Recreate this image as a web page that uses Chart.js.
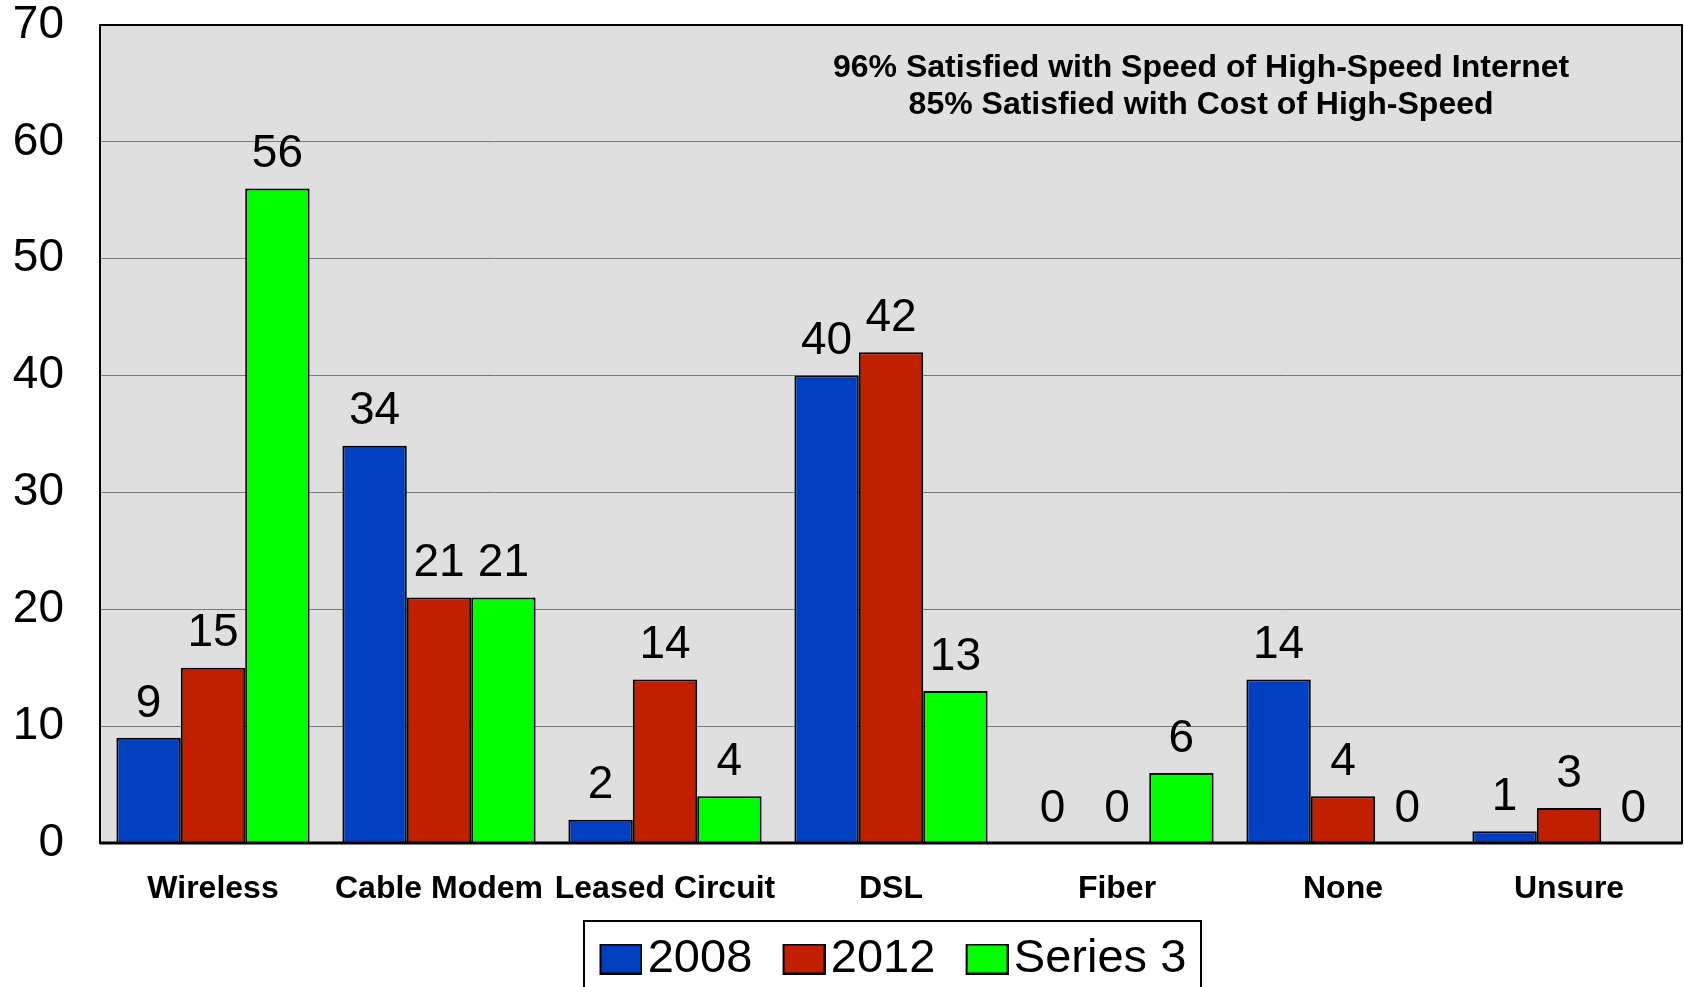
<!DOCTYPE html>
<html>
<head>
<meta charset="utf-8">
<script src="https://cdn.jsdelivr.net/npm/chart.js@4/dist/chart.umd.min.js"></script>
<style>
html,body{margin:0;padding:0;background:#fff;}
#wrap{width:1684px;height:987px;position:relative;}
</style>
</head>
<body>
<div id="wrap"><canvas id="c" width="1684" height="987"></canvas></div>
<script>
const categories = ['Wireless', 'Cable Modem', 'Leased Circuit', 'DSL', 'Fiber', 'None', 'Unsure'];
const series2008 = [9, 34, 2, 40, 0, 14, 1];
const series2012 = [15, 21, 14, 42, 0, 4, 3];
const series3 = [56, 21, 4, 13, 6, 0, 0];
const seriesNames = ['2008', '2012', 'Series 3'];
const yMin = 0, yMax = 70, yStep = 10;
const noteLines = ['96% Satisfied with Speed of High-Speed Internet', '85% Satisfied with Cost of High-Speed'];

const colors = ['#0040C0', '#C02000', '#00FF00'];
const FONT = '"Liberation Sans", Arial, sans-serif';

const LEG_FONT = 47;
const LEG_PAD = 26.5;
const LEG_W = 28.5;
const LEG_H = LEG_PAD + 51.5;

function makeSwatch(color) {
  const c = document.createElement('canvas');
  c.width = Math.round(LEG_W + 36); c.height = 31;
  const g = c.getContext('2d');
  const sx = Math.round(LEG_W - 6);
  g.fillStyle = color;
  g.fillRect(sx, 1, 41, 29);
  g.strokeStyle = '#000';
  g.lineWidth = 2;
  g.strokeRect(sx, 1, 41, 29);
  return c;
}
const swatches = colors.map(makeSwatch);

const plotBg = {
  id: 'plotBg',
  beforeDraw(chart) {
    const {ctx, chartArea: a} = chart;
    ctx.save();
    ctx.fillStyle = '#DFDFDF';
    ctx.fillRect(a.left, a.top, a.right - a.left, a.bottom - a.top);
    ctx.restore();
  },
  afterDatasetsDraw(chart) {
    const {ctx, chartArea: a} = chart;
    ctx.save();
    ctx.strokeStyle = '#000';
    ctx.lineWidth = 2;
    ctx.strokeRect(a.left, a.top, a.right - a.left, a.bottom - a.top);
    ctx.lineWidth = 3;
    ctx.beginPath();
    ctx.moveTo(a.left, a.bottom);
    ctx.lineTo(a.right, a.bottom);
    ctx.stroke();
    // value labels
    ctx.fillStyle = '#000';
    ctx.font = '46px ' + FONT;
    ctx.textAlign = 'center';
    ctx.textBaseline = 'middle';
    chart.data.datasets.forEach((ds, di) => {
      const meta = chart.getDatasetMeta(di);
      meta.data.forEach((bar, i) => {
        ctx.fillText(String(ds.data[i]), bar.x, bar.y - 34);
      });
    });
    // note
    ctx.font = 'bold 32px ' + FONT;
    const cx = a.left + (a.right - a.left) * 0.696;
    ctx.fillText(noteLines[0], cx, a.top + 43);
    ctx.fillText(noteLines[1], cx, a.top + 80);
    ctx.restore();
  },
  afterDraw(chart) {
    const lg = chart.legend;
    if (!lg || !lg.legendHitBoxes || !lg.legendHitBoxes.length) return;
    const hb = lg.legendHitBoxes;
    const first = hb[0], last = hb[hb.length - 1];
    const {ctx} = chart;
    ctx.save();
    ctx.strokeStyle = '#000';
    ctx.lineWidth = 2;
    const left = Math.round(first.left + LEG_W - 24 - 16);
    const right = Math.round(last.left + last.width + 15);
    ctx.strokeRect(left, 921, right - left, 100);
    ctx.restore();
  }
};

new Chart(document.getElementById('c'), {
  type: 'bar',
  data: {
    labels: categories,
    datasets: [
      {label: seriesNames[0], data: series2008},
      {label: seriesNames[1], data: series2012},
      {label: seriesNames[2], data: series3}
    ].map((d, i) => Object.assign(d, {
      backgroundColor: colors[i],
      borderColor: '#000',
      borderWidth: 2,
      categoryPercentage: 0.855,
      barPercentage: 1.0
    }))
  },
  options: {
    responsive: false,
    devicePixelRatio: 1,
    animation: false,
    layout: {padding: {left: 0, right: 2, top: 25, bottom: 0}},
    scales: {
      x: {
        grid: {display: false},
        border: {display: false},
        ticks: {
          color: '#000',
          font: {family: FONT, size: 32, weight: 'bold', lineHeight: 1.0},
          mirror: true,
          padding: -62,
          autoSkip: false,
          maxRotation: 0,
          minRotation: 0
        },
        afterFit(s) { s.height = 144 - LEG_H; s.paddingLeft = 0; s.paddingRight = 0; }
      },
      y: {
        min: yMin, max: yMax,
        grid: {color: '#7a7a7a', lineWidth: 1, drawTicks: false},
        border: {display: false},
        ticks: {
          stepSize: yStep,
          color: '#000',
          font: {family: FONT, size: 46},
          padding: 36
        },
        afterFit(s) { s.width = 100; s.paddingTop = 0; s.paddingBottom = 0; }
      }
    },
    plugins: {
      tooltip: {enabled: false},
      legend: {
        position: 'bottom',
        fullSize: false,
        maxHeight: LEG_H,
        labels: {
          color: '#000',
          font: {family: FONT, size: LEG_FONT},
          usePointStyle: true,
          pointStyleWidth: LEG_W,
          padding: LEG_PAD,
          generateLabels(chart) {
            const items = Chart.defaults.plugins.legend.labels.generateLabels(chart);
            items.forEach((it, i) => { it.pointStyle = swatches[i]; });
            return items;
          }
        }
      }
    }
  },
  plugins: [plotBg]
});
</script>
</body>
</html>
